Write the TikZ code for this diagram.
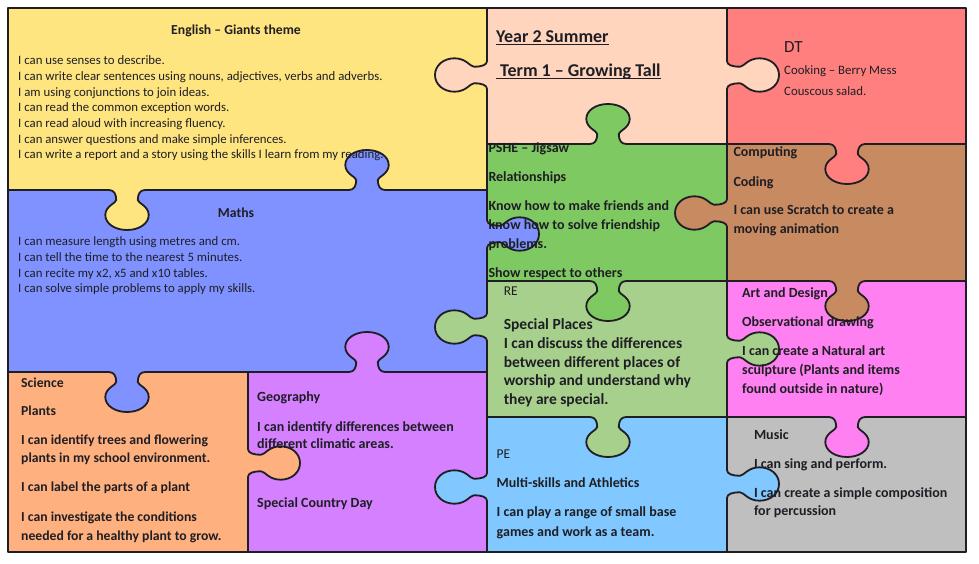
\documentclass[tikz,border=0pt]{standalone}
\usepackage{fontspec}
\setmainfont{Carlito}
\definecolor{cEng}{HTML}{FFE57F}
\definecolor{cMath}{HTML}{8092FF}
\definecolor{cSci}{HTML}{FFB07F}
\definecolor{cGeo}{HTML}{D580FF}
\definecolor{cYear}{HTML}{FFD5BE}
\definecolor{cDT}{HTML}{FF7F7F}
\definecolor{cPSHE}{HTML}{7FC963}
\definecolor{cComp}{HTML}{C88A60}
\definecolor{cRE}{HTML}{A8D08D}
\definecolor{cArt}{HTML}{FF80F0}
\definecolor{cPE}{HTML}{80C8FF}
\definecolor{cMus}{HTML}{BFBFBF}
\definecolor{ink}{HTML}{1E1E24}
\newcommand\knob[3]{%
  \begin{scope}[shift={#1},#2]
    \fill[#3] (-20,-1.5) -- (-20,0) -- (-14,0) .. controls (-10,0) and (-8.3,4) .. (-8.3,10)
      .. controls (-8.3,13) and (-16.7,16) .. (-16.7,25)
      .. controls (-16.7,33.5) and (-9.5,40) .. (0,40)
      .. controls (9.5,40) and (16.7,33.5) .. (16.7,25)
      .. controls (16.7,16) and (8.3,13) .. (8.3,10)
      .. controls (8.3,4) and (10,0) .. (14,0) -- (20,0) -- (20,-1.5) -- cycle;
    \draw[edge] (-20,0) -- (-14,0) .. controls (-10,0) and (-8.3,4) .. (-8.3,10)
      .. controls (-8.3,13) and (-16.7,16) .. (-16.7,25)
      .. controls (-16.7,33.5) and (-9.5,40) .. (0,40)
      .. controls (9.5,40) and (16.7,33.5) .. (16.7,25)
      .. controls (16.7,16) and (8.3,13) .. (8.3,10)
      .. controls (8.3,4) and (10,0) .. (14,0) -- (20,0);
  \end{scope}}
\begin{document}
\begin{tikzpicture}[x=1pt,y=-1pt,
  edge/.style={draw=ink, line width=1.8pt, line cap=round, line join=round},
  kup/.style={x={(1.3pt,0pt)},y={(0pt,1pt)}},
  kdown/.style={x={(1.3pt,0pt)},y={(0pt,-1pt)}},
  kright/.style={x={(0pt,-1pt)},y={(1.3pt,0pt)}},
  kleft/.style={x={(0pt,-1pt)},y={(-1.3pt,0pt)}},
  reg/.style={anchor=base west, inner sep=0pt, text=ink, font=\fontsize{12.8}{15}\selectfont},
  bld/.style={anchor=base west, inner sep=0pt, text=ink, font=\bfseries\fontsize{14}{16}\selectfont},
  sci/.style={anchor=base west, inner sep=0pt, text=ink, font=\bfseries\fontsize{13.7}{16}\selectfont},
  big/.style={anchor=base west, inner sep=0pt, text=ink, font=\bfseries\fontsize{15.5}{18}\selectfont},
  ttl/.style={anchor=base, inner sep=0pt, text=ink, font=\bfseries\fontsize{13.7}{16}\selectfont},
  head/.style={anchor=base west, inner sep=0pt, text=ink, font=\bfseries\fontsize{18}{21}\selectfont},
]
\useasboundingbox (0,0) rectangle (979,564);
\fill[white] (0,0) rectangle (979,564);
% pieces
\fill[cEng]  (8,8) rectangle (487,190);
\fill[cMath] (8,190) rectangle (487,372);
\fill[cSci]  (8,372) rectangle (248,552);
\fill[cGeo]  (248,372) rectangle (487,552);
\fill[cYear] (487,8) rectangle (727,144);
\fill[cDT]   (727,8) rectangle (966,144);
\fill[cPSHE] (487,144) rectangle (727,281);
\fill[cComp] (727,144) rectangle (966,281);
\fill[cRE]   (487,281) rectangle (727,417);
\fill[cArt]  (727,281) rectangle (966,417);
\fill[cPE]   (487,417) rectangle (727,552);
\fill[cMus]  (727,417) rectangle (966,552);
% knobs
\knob{(127,190)}{kdown}{cEng}
\knob{(367,190)}{kup}{cMath}
\knob{(127,372)}{kdown}{cMath}
\knob{(367,372)}{kup}{cGeo}
\knob{(248,463)}{kright}{cSci}
\knob{(487,75)}{kleft}{cYear}
\knob{(487,234)}{kright}{cMath}
\knob{(487,327)}{kleft}{cRE}
\knob{(487,487)}{kleft}{cPE}
\knob{(608,144)}{kup}{cPSHE}
\knob{(847,144)}{kdown}{cDT}
\knob{(608,281)}{kdown}{cPSHE}
\knob{(847,281)}{kdown}{cComp}
\knob{(608,417)}{kdown}{cRE}
\knob{(847,417)}{kdown}{cArt}
\knob{(727,75)}{kright}{cYear}
\knob{(727,213)}{kleft}{cComp}
\knob{(727,349)}{kright}{cRE}
\knob{(727,484)}{kright}{cPE}
% straight edges
\draw[edge] (8,190) -- (101,190) (153,190) -- (341,190) (393,190) -- (487,190);
\draw[edge] (8,372) -- (101,372) (153,372) -- (341,372) (393,372) -- (487,372);
\draw[edge] (248,372) -- (248,443) (248,483) -- (248,552);
\draw[edge] (487,8) -- (487,55) (487,95) -- (487,214) (487,254) -- (487,307) (487,347) -- (487,467) (487,507) -- (487,552);
\draw[edge] (487,144) -- (582,144) (634,144) -- (821,144) (873,144) -- (966,144);
\draw[edge] (487,281) -- (582,281) (634,281) -- (821,281) (873,281) -- (966,281);
\draw[edge] (487,417) -- (582,417) (634,417) -- (821,417) (873,417) -- (966,417);
\draw[edge] (727,8) -- (727,55) (727,95) -- (727,193) (727,233) -- (727,329) (727,369) -- (727,464) (727,504) -- (727,552);
\draw[edge] (8,8) rectangle (966,552);
% English
\node[ttl] (engT) at (236,34.4) {English – Giants theme};
\node[reg] (eng1) at (18,64.8) {I can use senses to describe.};
\node[reg] (eng2) at (18,80.5) {I can write clear sentences using nouns, adjectives, verbs and adverbs.};
\node[reg] (eng3) at (18,96.2) {I am using conjunctions to join ideas.};
\node[reg] (eng4) at (18,111.9) {I can read the common exception words.};
\node[reg] (eng5) at (18,127.6) {I can read aloud with increasing fluency.};
\node[reg] (eng6) at (18,143.3) {I can answer questions and make simple inferences.};
\node[reg] (eng7) at (18,159.0) {I can write a report and a story using the skills I learn from my reading.};
% Maths
\node[ttl] (mathT) at (236,217.1) {Maths};
\node[reg] (m1) at (18,245.8) {I can measure length using metres and cm.};
\node[reg] (m2) at (18,261.1) {I can tell the time to the nearest 5 minutes.};
\node[reg] (m3) at (18,277.1) {I can recite my x2, x5 and x10 tables.};
\node[reg] (m4) at (18,292.8) {I can solve simple problems to apply my skills.};
% Science
\node[sci] (s1) at (21,387) {Science};
\node[sci] (s2) at (21,415.3) {Plants};
\node[sci] (s3) at (21,444.3) {I can identify trees and flowering};
\node[sci] (s4) at (21,462.6) {plants in my school environment.};
\node[sci] (s5) at (21,491.6) {I can label the parts of a plant};
\node[sci] (s6) at (21,521) {I can investigate the conditions};
\node[sci] (s7) at (21,540) {needed for a healthy plant to grow.};
% Geography
\node[bld] (g1) at (257,401.7) {Geography};
\node[bld] (g2) at (257,431.1) {I can identify differences between};
\node[bld] (g3) at (257,448.7) {different climatic areas.};
\node[bld] (g4) at (257,507.1) {Special Country Day};
% Year 2
\node[head] (y1) at (496,42.4) {Year 2 Summer};
\node[head] (y2) at (496,76.4) {\hspace*{4pt}Term 1 – Growing Tall};
\draw[ink, line width=1.1pt] ([yshift=-2pt]y1.base west) -- ([yshift=-2pt]y1.base east);
\draw[ink, line width=1.1pt] ([yshift=-2pt]y2.base west) -- ([yshift=-2pt]y2.base east);
% DT
\node[reg, font=\fontsize{17}{20}\selectfont] (d1) at (784,52.1) {DT};
\node[reg] (d2) at (784,74.8) {Cooking – Berry Mess};
\node[reg] (d3) at (784,95.8) {Couscous salad.};
% PSHE
\node[bld] (p1) at (488.3,152.7) {PSHE – Jigsaw};
\node[bld] (p2) at (488.3,181.7) {Relationships};
\node[bld] (p3) at (488.3,210.4) {Know how to make friends and};
\node[bld] (p4) at (488.3,229.7) {know how to solve friendship};
\node[bld] (p5) at (488.3,248.7) {problems.};
\node[bld] (p6) at (488.3,277.1) {Show respect to others};
% Computing
\node[bld] (c1) at (733.3,156.6) {Computing};
\node[bld] (c2) at (733.3,186) {Coding};
\node[bld] (c3) at (733.3,214.3) {I can use Scratch to create a};
\node[bld] (c4) at (733.3,233) {moving animation};
% RE
\node[reg, font=\fontsize{13.5}{16}\selectfont] (r1) at (503.6,295) {RE};
\node[big] (r2) at (503.6,329.1) {Special Places};
\node[big] (r3) at (503.6,348.1) {I can discuss the differences};
\node[big] (r4) at (503.6,367.1) {between different places of};
\node[big] (r5) at (503.6,385.8) {worship and understand why};
\node[big] (r6) at (503.6,404.8) {they are special.};
% Art
\node[bld] (a1) at (742,297.6) {Art and Design};
\node[bld] (a2) at (742,326.6) {Observational drawing};
\node[bld] (a3) at (742,355.3) {I can create a Natural art};
\node[bld] (a4) at (742,374.3) {sculpture (Plants and items};
\node[bld] (a5) at (742,393) {found outside in nature)};
% PE
\node[reg, font=\fontsize{13.5}{16}\selectfont] (pe1) at (496.5,458.6) {PE};
\node[bld] (pe2) at (496.5,487.6) {Multi-skills and Athletics};
\node[bld] (pe3) at (496.5,516.6) {I can play a range of small base};
\node[bld] (pe4) at (496.5,536) {games and work as a team.};
% Music
\node[bld] (mu1) at (753.8,439.3) {Music};
\node[bld] (mu2) at (753.8,468.3) {I can sing and perform.};
\node[bld] (mu3) at (753.8,497) {I can create a simple composition};
\node[bld] (mu4) at (753.8,515.3) {for percussion};
\end{tikzpicture}
\end{document}
